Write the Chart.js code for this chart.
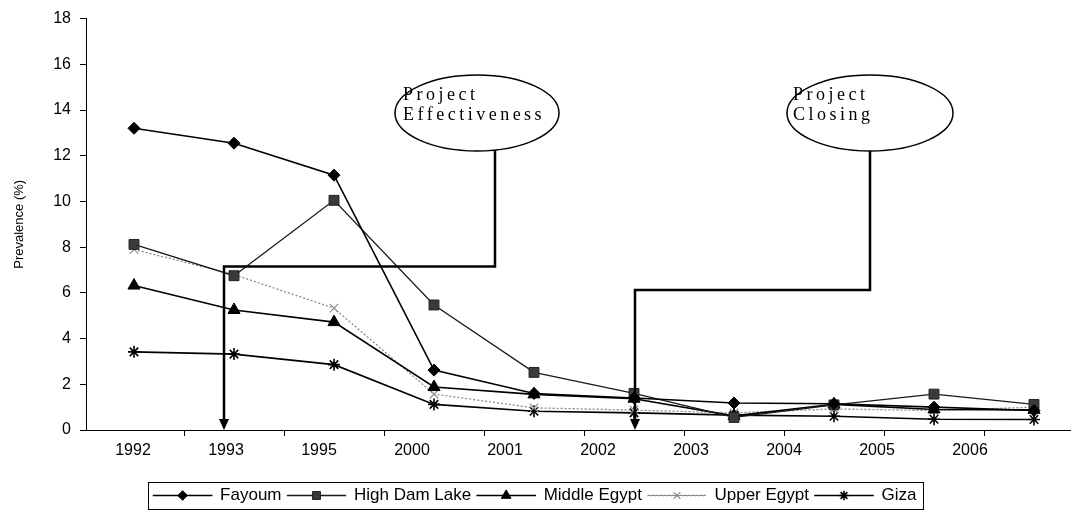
<!DOCTYPE html>
<html>
<head>
<meta charset="utf-8">
<script src="https://cdn.jsdelivr.net/npm/chart.js@4.4.0/dist/chart.umd.min.js"></script>
<style>
html, body { margin: 0; padding: 0; background: #fff; }
#contenedor { width: 1078px; height: 514px; position: relative; }
</style>
</head>
<body>
<div id="contenedor"><canvas id="myChart01"></canvas></div>
<script>
// datos
var anios = ['1992', '1993', '1995', '2000', '2001', '2002', '2003', '2004', '2005', '2006'];
var fayoum = [13.2, 12.55, 11.15, 2.62, 1.6, 1.4, 1.18, 1.15, 1.0, 0.85];
var highDamLake = [8.12, 6.75, 10.05, 5.47, 2.52, 1.6, 0.55, 1.1, 1.57, 1.12];
var middleEgypt = [6.32, 5.25, 4.72, 1.88, 1.56, 1.37, 0.62, 1.12, 0.9, 0.88];
var upperEgypt = [7.9, 6.8, 5.33, 1.57, 0.97, 0.87, 0.75, 0.92, 0.85, 1.0];
var giza = [3.42, 3.32, 2.86, 1.12, 0.82, 0.75, 0.65, 0.6, 0.47, 0.46];
var series = ['Fayoum', 'High Dam Lake', 'Middle Egypt', 'Upper Egypt', 'Giza'];
var ticksY = [0, 2, 4, 6, 8, 10, 12, 14, 16, 18];

var fuente = 'Arial, "Liberation Sans", sans-serif';

function puntos(valores) {
    return valores.map(function (v, i) { return { x: i, y: v }; });
}

// globos de texto con flecha hacia el eje
var notas = [
    { texto: ['Project', 'Effectiveness'], cx: 3.43, cy: 13.87, rx: 82, ry: 38, dx: -74, tallo: 3.61, codo: 7.15, flecha: 0.9 },
    { texto: ['Project', 'Closing'], cx: 7.36, cy: 13.87, rx: 83, ry: 38, dx: -77, tallo: 7.36, codo: 6.12, flecha: 5.01 }
];

var pluginNotas = {
    id: 'notas',
    afterDatasetsDraw: function (chart) {
        var ctx = chart.ctx;
        var sx = chart.scales.x, sy = chart.scales.y;
        ctx.save();
        notas.forEach(function (n) {
            var cx = sx.getPixelForValue(n.cx), cy = sy.getPixelForValue(n.cy);
            var tx = sx.getPixelForValue(n.tallo);
            var ey = sy.getPixelForValue(n.codo);
            var ax = sx.getPixelForValue(n.flecha);
            var y0 = sy.getPixelForValue(0);
            var d = (tx - cx) / n.rx;
            var bottom = cy + n.ry * Math.sqrt(Math.max(0, 1 - d * d));

            ctx.strokeStyle = '#000';
            ctx.lineWidth = 2.5;
            ctx.lineJoin = 'miter';
            ctx.beginPath();
            ctx.moveTo(tx, bottom);
            ctx.lineTo(tx, ey);
            ctx.lineTo(ax, ey);
            ctx.lineTo(ax, y0 - 9);
            ctx.stroke();
            ctx.fillStyle = '#000';
            ctx.beginPath();
            ctx.moveTo(ax - 5, y0 - 11);
            ctx.lineTo(ax + 5, y0 - 11);
            ctx.lineTo(ax, y0);
            ctx.closePath();
            ctx.fill();

            ctx.fillStyle = '#fff';
            ctx.lineWidth = 1.5;
            ctx.beginPath();
            ctx.ellipse(cx, cy, n.rx, n.ry, 0, 0, Math.PI * 2);
            ctx.fill();
            ctx.stroke();

            ctx.fillStyle = '#000';
            ctx.font = '18px "Liberation Serif", "Times New Roman", serif';
            ctx.letterSpacing = '3.5px';
            ctx.textAlign = 'left';
            ctx.textBaseline = 'alphabetic';
            ctx.fillText(n.texto[0], cx + n.dx, cy - 13);
            ctx.fillText(n.texto[1], cx + n.dx, cy + 7);
        });
        ctx.restore();
    },
    afterDraw: function (chart) {
        // marcador sobre la linea de la leyenda y marco de la leyenda
        var leg = chart.legend;
        if (!leg || !leg.legendHitBoxes.length) return;
        var ctx = chart.ctx;
        var cajas = leg.legendHitBoxes;
        var bw = leg.options.labels.boxWidth;
        ctx.save();
        cajas.forEach(function (c, i) {
            var ds = chart.data.datasets[i];
            ctx.fillStyle = ds.pointBackgroundColor;
            ctx.strokeStyle = ds.pointBorderColor;
            ctx.lineWidth = ds.pointBorderWidth;
            ctx.setLineDash([]);
            Chart.helpers.drawPoint(ctx, {
                pointStyle: ds.pointStyle,
                radius: ds.pointRadius * 0.8,
                rotation: 0,
                borderWidth: ds.pointBorderWidth
            }, c.left + bw / 2, c.top + c.height / 2);
        });
        var ult = cajas[cajas.length - 1];
        ctx.strokeStyle = '#000';
        ctx.lineWidth = 1;
        ctx.strokeRect(Math.round(cajas[0].left - 6) + 0.5, Math.round(cajas[0].top - 5) + 0.5,
            Math.round(ult.left + ult.width - cajas[0].left + 12), Math.round(ult.height + 10));
        ctx.restore();
    }
};

var ctx = document.getElementById('myChart01');

var myChart1 = new Chart(ctx, {
    type: 'line',
    data: {
        datasets: [{
            label: series[0],
            data: puntos(fayoum),
            borderColor: '#000',
            backgroundColor: '#000',
            borderWidth: 1.6,
            pointStyle: 'rectRot',
            pointRadius: 6,
            pointBackgroundColor: '#000',
            pointBorderColor: '#000',
            pointBorderWidth: 1
        }, {
            label: series[1],
            data: puntos(highDamLake),
            borderColor: '#1a1a1a',
            backgroundColor: '#333',
            borderWidth: 1.3,
            pointStyle: 'rect',
            pointRadius: 7,
            pointBackgroundColor: '#3a3a3a',
            pointBorderColor: '#222',
            pointBorderWidth: 1
        }, {
            label: series[2],
            data: puntos(middleEgypt),
            borderColor: '#000',
            backgroundColor: '#000',
            borderWidth: 1.6,
            pointStyle: 'triangle',
            pointRadius: 7,
            pointBackgroundColor: '#000',
            pointBorderColor: '#000',
            pointBorderWidth: 1
        }, {
            label: series[3],
            data: puntos(upperEgypt),
            borderColor: '#8a8a8a',
            backgroundColor: '#8a8a8a',
            borderWidth: 1.3,
            borderDash: [2, 2],
            pointStyle: 'crossRot',
            pointRadius: 6,
            pointBackgroundColor: '#8a8a8a',
            pointBorderColor: '#8a8a8a',
            pointBorderWidth: 1.2
        }, {
            label: series[4],
            data: puntos(giza),
            borderColor: '#000',
            backgroundColor: '#000',
            borderWidth: 1.6,
            pointStyle: 'star',
            pointRadius: 6,
            pointBackgroundColor: '#000',
            pointBorderColor: '#000',
            pointBorderWidth: 1.6
        }]
    },
    options: {
        maintainAspectRatio: false,
        responsive: true,
        animation: false,
        layout: { autoPadding: false, padding: { top: 15, right: 8, left: 0, bottom: 0 } },
        plugins: {
            tooltip: { enabled: false },
            legend: {
                display: true,
                position: 'bottom',
                labels: {
                    boxWidth: 58,
                    boxHeight: 0.1,
                    padding: 6,
                    color: '#000',
                    font: { size: 17, family: fuente }
                }
            }
        },
        scales: {
            x: {
                type: 'linear',
                position: 'bottom',
                min: -0.48,
                max: 9.36,
                afterBuildTicks: function (scale) {
                    scale.ticks = anios.slice(1).map(function (a, i) { return { value: i + 0.5 }; });
                },
                afterFit: function (scale) { scale.height = 6; },
                ticks: { display: false },
                grid: { drawOnChartArea: false, drawTicks: true, tickLength: 6, color: '#000' },
                border: { display: true, color: '#000', width: 1 }
            },
            x2: {
                type: 'linear',
                position: 'bottom',
                min: -0.48,
                max: 9.36,
                afterBuildTicks: function (scale) {
                    scale.ticks = anios.map(function (a, i) { return { value: -0.01 + 0.93 * i }; });
                },
                afterFit: function (scale) { scale.height = 45; },
                ticks: {
                    autoSkip: false,
                    maxRotation: 0,
                    padding: 5,
                    color: '#000',
                    font: { size: 16, family: fuente },
                    callback: function (v, i) { return anios[i]; }
                },
                grid: { display: false, drawTicks: false },
                border: { display: false }
            },
            y: {
                min: 0,
                max: 18,
                afterBuildTicks: function (scale) {
                    scale.ticks = ticksY.map(function (v) { return { value: v }; });
                },
                afterFit: function (scale) { scale.width = 86; },
                ticks: { color: '#000', padding: 9, font: { size: 16, family: fuente } },
                grid: { drawOnChartArea: false, drawTicks: true, tickLength: 6, color: '#000' },
                border: { display: true, color: '#000', width: 1 },
                title: {
                    display: true,
                    text: 'Prevalence (%)',
                    color: '#000',
                    padding: { top: 12, bottom: 0 },
                    font: { size: 13, family: fuente }
                }
            }
        }
    },
    plugins: [pluginNotas]
});
</script>
</body>
</html>
